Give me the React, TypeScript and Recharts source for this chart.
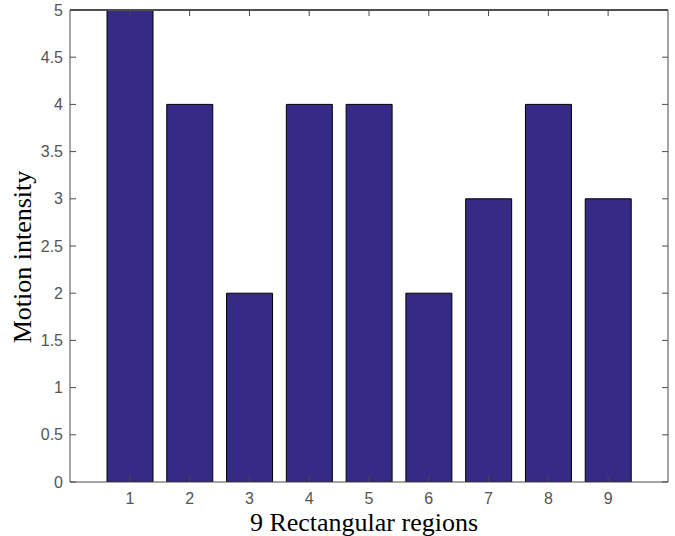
import React from 'react';
import { ComposedChart, Bar, Line, XAxis, YAxis, ReferenceLine } from 'recharts';

const categories = ['1', '2', '3', '4', '5', '6', '7', '8', '9'];
const intensity = [5, 4, 2, 4, 4, 2, 3, 4, 3];
const yTicks = [0, 0.5, 1, 1.5, 2, 2.5, 3, 3.5, 4, 4.5, 5];
const yMax = 5;
const xTitle = '9 Rectangular regions';
const yTitle = 'Motion intensity';

const data = categories.map((c, i) => ({ region: c, value: intensity[i] }));

const AXIS = '#4a4a4a';
const TICK_TEXT = { fill: '#555555', fontSize: 16, fontFamily: 'Liberation Sans, Arial, sans-serif' };
const SERIF = 'Liberation Serif, Times New Roman, serif';

export default function App() {
  return (
    <div style={{ position: 'absolute', left: 0, top: 0, width: 675, height: 536, background: '#fff' }}>
      <ComposedChart
        width={675}
        height={536}
        data={data}
        margin={{ top: 0, right: 0, left: 0, bottom: 0 }}
      >
        <XAxis
          dataKey="region"
          type="category"
          padding={{ left: 30, right: 30 }}
          height={54}
          stroke={AXIS}
          tickSize={-6}
          tickMargin={17}
          tick={TICK_TEXT}
          interval={0}
        />
        <XAxis
          xAxisId="top"
          dataKey="region"
          orientation="top"
          type="category"
          padding={{ left: 30, right: 30 }}
          height={10}
          stroke={AXIS}
          tickSize={-6}
          tickFormatter={() => ''}
          interval={0}
        />
        <YAxis
          type="number"
          domain={[0, yMax]}
          ticks={yTicks}
          width={70}
          stroke={AXIS}
          tickSize={-6}
          tickMargin={13}
          tick={TICK_TEXT}
          interval={0}
          allowDataOverflow
        />
        <YAxis
          yAxisId="right"
          orientation="right"
          type="number"
          domain={[0, yMax]}
          ticks={yTicks}
          width={7}
          stroke={AXIS}
          tickSize={-6}
          tickFormatter={() => ''}
          interval={0}
          allowDataOverflow
        />
        <Bar
          dataKey="value"
          fill="#352A86"
          stroke="#000"
          strokeWidth={1}
          barSize={46}
          isAnimationActive={false}
        />
        <Line
          xAxisId="top"
          yAxisId="right"
          dataKey="value"
          stroke="none"
          dot={false}
          activeDot={false}
          legendType="none"
          isAnimationActive={false}
        />
        <ReferenceLine y={yMax} stroke="#555555" strokeWidth={2} ifOverflow="visible" />
      </ComposedChart>
      <svg
        width={675}
        height={536}
        style={{ position: 'absolute', left: 0, top: 0, pointerEvents: 'none' }}
      >
        <text x={364} y={531} textAnchor="middle" fontFamily={SERIF} fontSize={26} fill="#000">
          {xTitle}
        </text>
        <text
          x={31}
          y={257}
          textAnchor="middle"
          transform="rotate(-90 31 257)"
          fontFamily={SERIF}
          fontSize={26}
          fill="#000"
        >
          {yTitle}
        </text>
      </svg>
    </div>
  );
}
